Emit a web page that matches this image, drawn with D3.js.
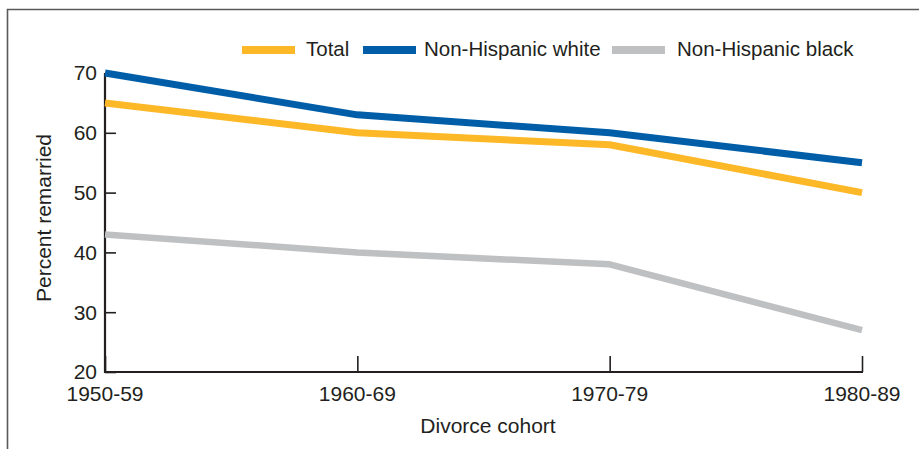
<!DOCTYPE html>
<html>
<head>
<meta charset="utf-8">
<script src="https://cdn.jsdelivr.net/npm/d3@7"></script>
<style>
html,body{margin:0;padding:0;background:#fff;}
svg{display:block;}
text{font-family:"Liberation Sans",Arial,Helvetica,sans-serif;fill:#231f20;}
</style>
</head>
<body>
<svg id="chart" width="919" height="449"></svg>
<script>
const categories = ["1950-59", "1960-69", "1970-79", "1980-89"];
const totalValues = [65, 60, 58, 50];
const whiteValues = [70, 63, 60, 55];
const blackValues = [43, 40, 38, 27];
const yTicks = [20, 30, 40, 50, 60, 70];
const seriesNames = ["Total", "Non-Hispanic white", "Non-Hispanic black"];
const seriesColors = ["#fdb827", "#005ea8", "#bfc0c2"];

const svg = d3.select("#chart");
const W = 919, H = 449;
const fs = 21;
const legendFs = 20.5;

// frame
svg.append("path")
  .attr("d", `M7.5,${H} L7.5,9.5 L${W},9.5`)
  .attr("fill", "none").attr("stroke", "#58595b").attr("stroke-width", 1.6);

const x = d3.scalePoint().domain(categories).range([105, 862]);
const y = d3.scaleLinear().domain([20, 70]).range([372, 73]);

// y axis
const yAxis = d3.axisRight(y).tickValues(yTicks).tickSize(11).tickFormat("");
const gy = svg.append("g").attr("transform", "translate(105,0)").call(yAxis);
gy.select(".domain").remove();
gy.selectAll(".tick line").attr("stroke", "#231f20").attr("stroke-width", 1.6);
gy.append("line").attr("x1", 0).attr("x2", 0).attr("y1", y(70)).attr("y2", y(20) + 1)
  .attr("stroke", "#231f20").attr("stroke-width", 2.2);
gy.selectAll(".ylab").data(yTicks).enter().append("text")
  .attr("x", -8).attr("y", d => y(d)).attr("dy", "0.35em")
  .attr("text-anchor", "end").style("font-size", fs + "px").text(d => d);

// x axis
const xAxis = d3.axisTop(x).tickSize(16).tickFormat("");
const gx = svg.append("g").attr("transform", "translate(0,372)").call(xAxis);
gx.select(".domain").remove();
gx.selectAll(".tick line").attr("stroke", "#231f20").attr("stroke-width", 1.6);
gx.append("line").attr("x1", 104).attr("x2", 863).attr("y1", 0).attr("y2", 0)
  .attr("stroke", "#231f20").attr("stroke-width", 2.2);
gx.selectAll(".xlab").data(categories).enter().append("text")
  .attr("x", d => x(d)).attr("y", 28.5)
  .attr("text-anchor", "middle").style("font-size", fs + "px").text(d => d);

// axis titles
svg.append("text").attr("x", 488).attr("y", 433).attr("text-anchor", "middle")
  .style("font-size", fs + "px").text("Divorce cohort");
svg.append("text").attr("transform", "translate(51,218) rotate(-90)")
  .attr("text-anchor", "middle").style("font-size", fs + "px").text("Percent remarried");

// lines
const allSeries = [
  {name: seriesNames[2], values: blackValues, color: seriesColors[2], w: 6.5},
  {name: seriesNames[0], values: totalValues, color: seriesColors[0], w: 7},
  {name: seriesNames[1], values: whiteValues, color: seriesColors[1], w: 7}
];
const line = d3.line().x((d, i) => x(categories[i])).y(d => y(d));
svg.selectAll(".series").data(allSeries).enter().append("path")
  .attr("d", d => line(d.values))
  .attr("fill", "none").attr("stroke", d => d.color).attr("stroke-width", d => d.w)
  .attr("stroke-linejoin", "round").attr("stroke-linecap", "butt");

// legend
const legendItems = [
  {name: seriesNames[0], color: seriesColors[0], x: 242, tx: 306},
  {name: seriesNames[1], color: seriesColors[1], x: 363, tx: 424},
  {name: seriesNames[2], color: seriesColors[2], x: 612, tx: 677}
];
const lg = svg.append("g");
lg.selectAll("rect").data(legendItems).enter().append("rect")
  .attr("x", d => d.x).attr("y", 46).attr("width", 53).attr("height", 8)
  .attr("fill", d => d.color);
lg.selectAll("text").data(legendItems).enter().append("text")
  .attr("x", d => d.tx).attr("y", 56)
  .style("font-size", legendFs + "px").text(d => d.name);
</script>
</body>
</html>
